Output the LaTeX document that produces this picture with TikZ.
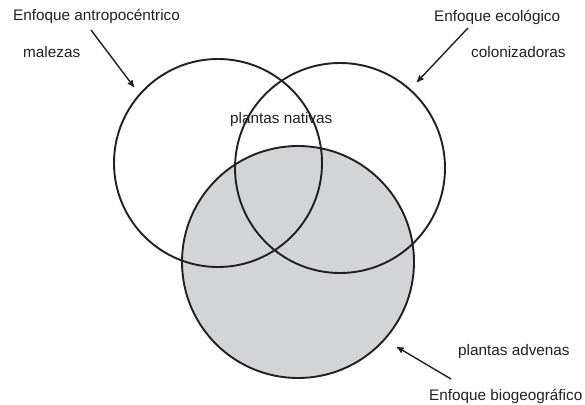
\documentclass[tikz,border=0pt]{standalone}
\usepackage{fontspec}
\setmainfont{Liberation Sans}
\usetikzlibrary{arrows,positioning,calc}
\definecolor{venngray}{RGB}{211,212,214}
\definecolor{ink}{RGB}{35,31,32}

\begin{document}
\begin{tikzpicture}[x=1pt,y=-1pt,
  ring/.style={circle,draw=ink,line width=1.9pt,inner sep=0pt,minimum size=#1},
  lbl/.style={font=\fontsize{15.3}{18}\selectfont,text=ink,inner sep=0pt,anchor=base west},
  pointer/.style={-stealth',line width=1.4pt,draw=ink}]
\useasboundingbox (0,0) rectangle (585,404);
% the three circles
\node[ring=232pt,fill=venngray] (bio) at (298,262) {};
\node[ring=208pt] (antro) at (218,163) {};
\node[ring=210pt] (eco) at (340,168) {};
% labels
\node[lbl] (antroName) at (13,21) {Enfoque antropocéntrico};
\node[lbl] (malezas) at (23,57) {malezas};
\node[lbl] (ecoName) at (434,22) {Enfoque ecológico};
\node[lbl] (coloniz) at (471,57) {colonizadoras};
\node[lbl] (nativas) at (230,123) {plantas nativas};
\node[lbl] (advenas) at (458,355) {plantas advenas};
\node[lbl] (bioName) at (429,400) {Enfoque biogeográfico};
% pointers
\coordinate (antroTail) at (91,30);
\coordinate (antroTip) at (134,87);
\coordinate (ecoTail) at (468,28);
\coordinate (ecoTip) at (417,82);
\coordinate (bioTail) at (451,379);
\coordinate (bioTip) at (397,347);
\draw[pointer] (antroTail) -- (antroTip);
\draw[pointer] (ecoTail) -- (ecoTip);
\draw[pointer] (bioTail) -- (bioTip);
\end{tikzpicture}
\end{document}
